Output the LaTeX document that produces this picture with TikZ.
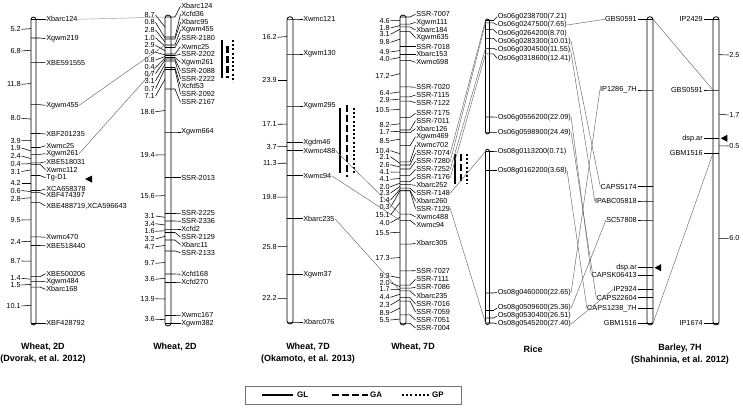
\documentclass[tikz,border=0pt]{standalone}
\usepackage{fontspec}
\setmainfont{Liberation Sans}
\usetikzlibrary{calc}
\tikzset{
  chrbar/.style={draw=black, line width=0.8pt, fill=white, inner sep=0pt, outer sep=0pt},
  tickline/.style={draw=black, line width=0.55pt},
  lbl/.style={font=\fontsize{7.3}{8.5}\selectfont, inner sep=0.3pt, outer sep=0pt},
  ttl/.style={font=\fontsize{9}{11}\selectfont\bfseries, inner sep=0pt},
  lgd/.style={font=\fontsize{8}{10}\selectfont\bfseries, inner sep=0pt, anchor=west},
  conn/.style={draw=black!60, line width=0.45pt},
  glbar/.style={line width=2.2pt},
  gabar/.style={line width=2.2pt, dash pattern=on 6.5pt off 3.5pt},
  gpbar/.style={line width=2.2pt, dash pattern=on 2pt off 2.2pt},
}
% markers with labels on the right
\newcommand\mkR[5]{%
  \foreach \ty/\ly/\nm [count=\i] in {#5}{%
    \coordinate (#1t\i) at (#2,\ty);
    \draw[tickline] (#2,\ty) -- (#3+4,\ty) -- (#3+#4-0.5,\ly);
    \node[lbl,anchor=west] (#1m\i) at (#3+#4,\ly) {\nm};
  }}
% markers with labels on the left
\newcommand\mkL[5]{%
  \foreach \ty/\ly/\nm [count=\i] in {#5}{%
    \coordinate (#1t\i) at (#3,\ty);
    \coordinate (#1s\i) at (#2,\ty);
    \draw[tickline] (#3,\ty) -- (#2-4,\ty) -- (#2-#4+0.5,\ly);
    \node[lbl,anchor=east] (#1m\i) at (#2-#4,\ly) {\nm};
  }}
% interval distances on the left
\newcommand\dsL[3]{%
  \foreach \ly/\dl [count=\i, evaluate=\i as \j using int(\i+1)] in {#3}{%
    \node[lbl,anchor=east] (#1d\i) at (#2-10,\ly) {\dl};
    \draw[tickline] (#1d\i.east) ++(0.5,0) -- ($(#1t\i)!.5!(#1t\j)$);
  }}
% interval distances on the right
\newcommand\dsR[3]{%
  \foreach \ly/\dl [count=\i, evaluate=\i as \j using int(\i+1)] in {#3}{%
    \node[lbl,anchor=west] (#1d\i) at (#2+10,\ly) {\dl};
    \draw[tickline] (#1d\i.west) ++(-0.5,0) -- ($(#1t\i)!.5!(#1t\j)$);
  }}
\begin{document}
\begin{tikzpicture}[x=1pt,y=-1pt]
\useasboundingbox (0,0) rectangle (743,408);

% ---------------- chromosome bars
\node[chrbar, minimum width=5pt, minimum height=308pt, rounded corners=2.5pt] (c1) at (33.5,171) {};
\node[chrbar, minimum width=6pt, minimum height=311pt, rounded corners=3pt] (c2) at (168,170.5) {};
\node[chrbar, minimum width=6pt, minimum height=307.3pt, rounded corners=3pt] (c3) at (290,170.35) {};
\node[chrbar, minimum width=6pt, minimum height=310pt, rounded corners=3pt] (c4) at (403,170) {};
\node[chrbar, minimum width=4pt, minimum height=115pt, rounded corners=2pt] (ru) at (487.5,76.5) {};
\node[chrbar, minimum width=4pt, minimum height=175.2pt, rounded corners=2pt] (rl) at (487.5,236.9) {};
\node[chrbar, minimum width=6pt, minimum height=308.3pt, rounded corners=3pt] (b1) at (650,170.85) {};
\node[chrbar, minimum width=6pt, minimum height=308.3pt, rounded corners=3pt] (b2) at (716,170.85) {};

% ---------------- Wheat 2D (Dvorak)
\mkR{c1}{31}{36}{10}{19.3/19.3/Xbarc124, 38/38.7/Xgwm219, 62.4/62.7/XBE591555, 104.7/105.3/Xgwm455, 133.5/134/XBF201235, 147.5/145.7/Xwmc25, 154.3/153.7/Xgwm261, 162.9/161.7/XBE518031, 164.3/169.7/Xwmc112, 175.5/177.7/Tg-D1, 190.5/189/XCA658378, 192.7/195/XBF474397, 202.7/206/{XBE488719,XCA596643}, 236.9/237.3/Xwmc470, 245.5/245.7/XBE518440, 276.7/273.7/XBE500206, 281.7/281.3/Xgwm484, 287.1/289.3/Xbarc168, 323.3/323.3/XBF428792}
\dsL{c1}{31}{29.3/5.2, 51/6.8, 84.3/11.8, 118.3/8.0, 140.7/3.9, 148/1.9, 156/2.4, 164/0.4, 171.5/3.1, 183/4.2, 190.5/0.6, 198.5/2.8, 220/9.5, 241.7/2.4, 261/8.7, 278.3/1.4, 285/1.5, 306/10.1}
\fill (85,179) -- (92,175.5) -- (92,182.5) -- cycle;

% ---------------- Wheat 2D
\mkR{c2}{165}{171}{10}{17/6/Xbarc124, 37/14.3/Xcfd36, 39/22.3/Xbarc95, 45/30/Xgwm455, 47.5/37.7/SSR-2180, 54/46.7/Xwmc25, 55.5/54.3/SSR-2202, 57.5/62.3/Xgwm261, 59/70.7/SSR-2088, 61/78.7/SSR-2222, 67.5/86.3/Xcfd53, 69.5/94.3/SSR-2092, 89/102.3/SSR-2167, 132/132/Xgwm664, 177.7/177.7/SSR-2013, 213.5/213.3/SSR-2225, 221/221.3/SSR-2336, 229/229/Xcfd2, 232.5/237/SSR-2129, 240/244.7/Xbarc11, 251/252.7/SSR-2133, 274/274.3/Xcfd168, 282.5/282.3/Xcfd270, 315.5/315.3/Xwmc167, 323.7/323.7/Xgwm382}
\dsL{c2}{165}{15/8.7, 22.3/0.8, 30/2.8, 37.7/1.0, 45.3/2.9, 52.3/0.4, 60/0.8, 67.3/0.4, 73.7/0.7, 81/3.1, 88.7/0.7, 96/7.1, 111.7/18.6, 155/19.4, 196/15.6, 216/3.1, 223.7/3.4, 231.3/1.6, 239/3.2, 246.7/4.7, 263.3/9.7, 279.3/3.6, 298.7/13.9, 319.3/3.6}
\draw[glbar] (222.3,40) -- (222.3,78.3);
\draw[gabar] (227.5,46) -- (227.5,78);
\draw[gpbar] (233,40) -- (233,82);

% ---------------- Wheat 7D (Okamoto)
\mkR{c3}{287}{293}{10}{19/19/Xwmc121, 54/54/Xgwm130, 106/106/Xgwm295, 142.3/142.3/Xgdm46, 150.7/150.7/Xwmc488, 175.7/175.7/Xwmc94, 218.7/218.7/Xbarc235, 274.7/274.7/Xgwm37, 322/322/Xbarc076}
\dsL{c3}{287}{37.3/16.2, 80/23.9, 124.3/17.1, 146.7/3.7, 163.3/11.3, 197/19.8, 246.7/25.8, 298.3/22.2}
\draw[glbar] (340,108.3) -- (340,173.3);
\draw[gabar] (347.3,105) -- (347.3,176.7);
\draw[gpbar] (354.3,108) -- (354.3,173);

% ---------------- Wheat 7D
\mkR{c4}{400}{406}{10}{17/14.3/SSR-7007, 24.1/22.3/Xgwm111, 26.9/30/Xbarc184, 31.6/37.7/Xgwm635, 46.7/46.7/SSR-7018, 54.3/54.3/Xbarc153, 60.4/62.3/Xwmc698, 86.9/87.3/SSR-7020, 96.8/95/SSR-7115, 101.2/102.7/SSR-7122, 117.4/113.3/SSR-7175, 130/120.7/SSR-7011, 132.7/128.7/Xbarc126, 145.7/136.7/Xgwm469, 161.8/145.3/Xwmc702, 165/153.3/SSR-7074, 169/161.3/SSR-7280, 175.3/169.3/SSR-7252, 181.6/177.3/SSR-7176, 184.7/185.3/Xbarc252, 188.2/193/SSR-7148, 190.4/200.7/Xbarc260, 190.9/208.7/SSR-7129, 214.1/216.7/Xwmc488, 220.3/224.7/Xwmc94, 244.2/243.3/Xbarc305, 270.8/270.7/SSR-7027, 285.1/279.3/SSR-7111, 288.2/287.3/SSR-7086, 290.8/296/Xbarc235, 297.6/304/SSR-7016, 301.1/312/SSR-7059, 314.8/320/SSR-7051, 323.3/328/SSR-7004}
\dsL{c4}{400}{20.7/4.6, 28/1.8, 34.3/3.1, 42.3/9.8, 52/4.9, 59.3/4.0, 76/17.2, 93.3/6.4, 100/2.9, 110/10.5, 125/8.2, 131.7/1.7, 140.7/8.5, 150.7/10.4, 156.7/2.1, 164.7/2.6, 172/4.1, 179.3/4.1, 186.7/2.0, 193/2.3, 200/1.4, 207.3/0.3, 215/15.1, 222.7/4.0, 232.7/15.5, 258.3/17.3, 276/9.3, 282.7/2.0, 289.3/1.7, 297.3/4.4, 305/2.3, 312.7/8.9, 320/5.5}
\draw[glbar] (455,154) -- (455,184);
\draw[gabar] (460.8,154) -- (460.8,184);
\draw[gpbar] (466.7,154) -- (466.7,184);

% ---------------- Rice
\mkR{ru}{485.5}{489.5}{8}{20.5/16.7/{Os06g0238700(7.21)}, 22.9/25/{Os06g0247500(7.65)}, 29.7/33.3/{Os06g0264200(8.70)}, 38.3/41.7/{Os06g0283300(10.01)}, 48.3/50/{Os06g0304500(11.55)}, 53.9/58.3/{Os06g0318600(12.41)}, 117/117.3/{Os06g0556200(22.09)}, 132.6/132.7/{Os06g0598900(24.49)}}
\mkR{rl}{485.5}{489.5}{8}{151.5/151.7/{Os08g0113200(0.71)}, 170.7/170.7/{Os08g0162200(3.68)}, 293/292.3/{Os08g0460000(22.65)}, 310.5/308/{Os08g0509600(25.36)}, 318/316/{Os08g0530400(26.51)}, 323/324/{Os08g0545200(27.40)}}

% ---------------- Barley 7H
\mkL{b1}{647}{653}{10}{19.3/19.3/GBS0591, 90/90/IP1286\_7H, 186.7/186.7/CAPS5174, 201/201/IPABC05818, 220/220/SC57808, 267.7/267.7/dsp.ar, 275.3/275.3/CAPSK06413, 289.3/289.3/IP2924, 297.7/297.7/CAPS22604, 308.3/308.3/CAPS1238\_7H, 323.3/323.3/GBM1516}
\fill (654.5,267.7) -- (661,264.2) -- (661,271.2) -- cycle;
\mkL{b2}{713}{719}{10}{19.3/19.3/IP2429, 90/90/GBS0591, 138.3/138.3/dsp.ar, 153.3/153.3/GBM1516, 323.3/323.3/IP1674}
\dsR{b2}{719}{55/2.5, 115/1.7, 146/0.5, 238.3/6.0}
\fill (720.7,138.3) -- (727.3,134.8) -- (727.3,141.8) -- cycle;

% ---------------- connectors
\draw[conn, draw=black!40] (c1m1.east) -- (c2t1);
\draw[conn] (c1m4.east) -- (c2t4);
\draw[conn] (c1m7.east) -- (c2t8);

\draw[conn] (c3m5.east) -- (c4t24);
\draw[conn] (c3m6.east) -- (c4t25);
\draw[conn] (c3m7.east) -- (c4t30);

\draw[conn] (c4m16.east) -- (rut1);
\draw[conn] (c4m17.east) -- (rut2);
\draw[conn] (c4m18.east) -- (rut5);
\draw[conn] (c4m19.east) -- (rut6);
\draw[conn] (c4m21.east) -- (rlt1);
\draw[conn] (c4m23.east) -- (rlt6);

\draw[conn] (rum2.east) -- (b1m1.west);
\draw[conn] (rum4.east) -- (b1m3.west);
\draw[conn] (rum5.east) -- (b1m4.west);
\draw[conn] (rum7.east) -- (b1m7.west);
\draw[conn] (rum8.east) -- (b1m9.west);
\draw[conn] (rlm2.east) -- (b1m10.west);
\draw[conn] (rlm3.east) -- (b1m2.west);
\draw[conn] (rlm4.east) -- (b1m5.west);
\draw[conn] (rlm6.east) -- (b1m8.west);

\draw[conn] (b1t1) -- (b2s2);
\draw[conn] (b2s4) -- (b1t11);

% ---------------- titles
\node[ttl] (t1) at (43,347) {Wheat, 2D};
\node[ttl] (t1s) at (43,359) {(Dvorak, et al. 2012)};
\node[ttl] (t2) at (175,347) {Wheat, 2D};
\node[ttl] (t3) at (308,347) {Wheat, 7D};
\node[ttl] (t3s) at (308,359) {(Okamoto, et al. 2013)};
\node[ttl] (t4) at (413,347) {Wheat, 7D};
\node[ttl] (t5) at (533,349) {Rice};
\node[ttl] (t6) at (680,348) {Barley, 7H};
\node[ttl] (t6s) at (680,360) {(Shahinnia, et al. 2012)};

% ---------------- legend
\node[draw=black!55, line width=0.6pt, minimum width=216pt, minimum height=18pt, inner sep=0pt] (legend) at (353,395) {};
\draw[glbar, line width=2pt] (262,395) -- (293,395);
\node[lgd] (lgl) at (297,395) {GL};
\draw[gabar, line width=2pt] (332,395) -- (368,395);
\node[lgd] (lga) at (370,395) {GA};
\draw[gpbar, line width=2pt] (402,395) -- (430,395);
\node[lgd] (lgp) at (432,395) {GP};
\end{tikzpicture}
\end{document}
